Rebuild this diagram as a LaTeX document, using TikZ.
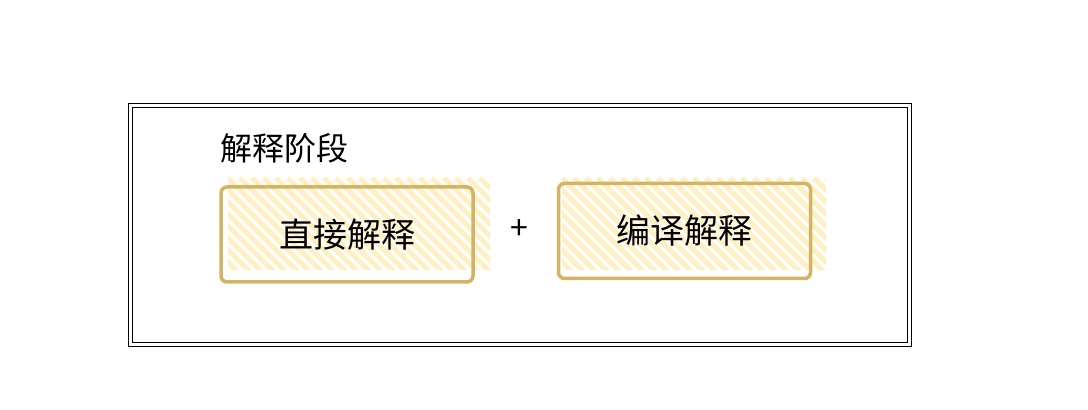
\documentclass[tikz,border=0pt]{standalone}
\usepackage{fontspec}
\newfontfamily\cjk{Noto Sans CJK SC}
\definecolor{stripe}{HTML}{FFF0C4}
\definecolor{edge}{HTML}{D2B464}
\tikzset{box/.style={draw=edge,line width=3.5pt,rounded corners=6pt,minimum width=252pt,minimum height=95pt,font=\cjk\fontsize{34}{40}\selectfont,inner sep=0pt},
lbl/.style={font=\cjk\fontsize{32}{38}\selectfont,inner sep=0pt}}
\newcommand{\hatchrect}[4]{%
\begin{scope}
\clip (#1,#2) rectangle (#3,#4);
\foreach \k in {-300,-288,...,300}{
\draw[stripe,line width=5pt] (#1+\k,#4) -- ++(120,-120);}
\end{scope}}
\begin{document}
\begin{tikzpicture}[x=1pt,y=1pt]
\useasboundingbox (0,0) rectangle (1088,410);
\fill[white] (0,0) rectangle (1088,410);
\draw[line width=1pt] (128,63) rectangle (911,306);
\draw[line width=1pt] (132,67) rectangle (907,302);
\node[lbl,anchor=west] (t) at (220,262) {解释阶段};
\hatchrect{228}{140}{490}{232}
\hatchrect{562}{140}{826}{232}
\node[box] (a) at (347,175.5) {直接解释};
\node[box] (b) at (684.5,179) {编译解释};
\node[lbl] (p) at (519,180) {+};
\end{tikzpicture}
\end{document}
